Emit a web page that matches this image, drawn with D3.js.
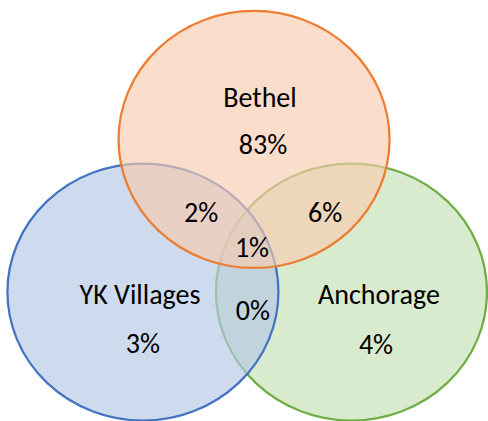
<!DOCTYPE html>
<html>
<head>
<meta charset="utf-8">
<script src="https://cdn.jsdelivr.net/npm/d3@7"></script>
<style>
  html, body { margin: 0; padding: 0; background: #fff; }
  svg text { font-family: Calibri, Carlito, "Liberation Sans", Arial, sans-serif; fill: #000; }
</style>
</head>
<body>
<div id="chart"></div>
<script>
// sets and their shares
var setNames = ["Bethel", "YK Villages", "Anchorage"];
var setShare = [83, 3, 4];
// pairwise overlaps: Bethel+YK, Bethel+Anchorage, YK+Anchorage
var pairNames = ["Bethel & YK Villages", "Bethel & Anchorage", "YK Villages & Anchorage"];
var pairShare = [2, 6, 0];
var allShare = [1];

var width = 488, height = 421;

// layout in circle units (radius = 1)
var centers = [[0.052, -0.79], [-0.768, 0.397], [0.771, 0.397]];
var nameAt = [[0.096, -1.043], [-0.790, 0.490], [0.974, 0.490]];
var shareAt = [[0.118, -0.677], [-0.768, 0.872], [0.952, 0.879]];
var pairAt = [[-0.339, -0.148], [0.576, -0.148], [0.044, 0.615]];
var allAt = [[0.037, 0.125]];

var stroke = ["#ED7D31", "#4472C4", "#70AD47"];
var fill = ["#F8CBAD", "#B4C7E7", "#C5E0B4"];

var x = d3.scaleLinear().domain([-1, 1]).range([247 - 135.5, 247 + 135.5]);
var y = d3.scaleLinear().domain([-1, 1]).range([241 - 128.5, 241 + 128.5]);

var svg = d3.select("#chart")
    .append("svg")
    .attr("width", width)
    .attr("height", height);

// draw order: Anchorage, YK Villages, Bethel on top
var order = [2, 1, 0];
svg.selectAll("ellipse")
    .data(order)
    .enter()
    .append("ellipse")
    .attr("cx", function(i) { return x(centers[i][0]); })
    .attr("cy", function(i) { return y(centers[i][1]); })
    .attr("rx", x(1) - x(0))
    .attr("ry", y(1) - y(0))
    .attr("fill", function(i) { return fill[i]; })
    .attr("fill-opacity", 0.65)
    .attr("stroke", function(i) { return stroke[i]; })
    .attr("stroke-width", 2.25);

var labels = [];
setNames.forEach(function(n, i) {
    labels.push({t: n, p: nameAt[i]});
    labels.push({t: setShare[i] + "%", p: shareAt[i]});
});
pairShare.forEach(function(v, i) {
    labels.push({t: v + "%", p: pairAt[i]});
});
labels.push({t: allShare[0] + "%", p: allAt[0]});

svg.selectAll("text")
    .data(labels)
    .enter()
    .append("text")
    .attr("x", function(d) { return x(d.p[0]); })
    .attr("y", function(d) { return y(d.p[1]); })
    .attr("text-anchor", "middle")
    .attr("font-size", 28)
    .text(function(d) { return d.t; });
</script>
</body>
</html>
